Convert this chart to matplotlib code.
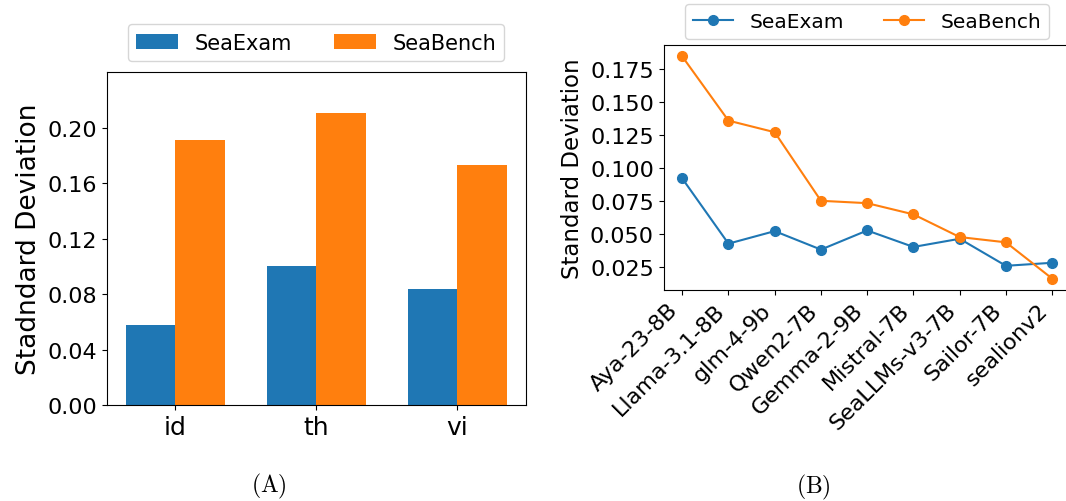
import numpy as np
import matplotlib
matplotlib.use("Agg")
import matplotlib.pyplot as plt

plt.rcParams["mathtext.fontset"] = "cm"

# Per-language spread of scores
languages = ["id", "th", "vi"]
seaexam_lang = [0.058, 0.100, 0.084]
seabench_lang = [0.191, 0.211, 0.173]

# Per-model spread of scores
models = ["Aya-23-8B", "Llama-3.1-8B", "glm-4-9b", "Qwen2-7B", "Gemma-2-9B",
          "Mistral-7B", "SeaLLMs-v3-7B", "Sailor-7B", "sealionv2"]
seaexam_model = [0.092, 0.0425, 0.052, 0.038, 0.0525, 0.040, 0.0462, 0.0257, 0.028]
seabench_model = [0.1845, 0.1358, 0.127, 0.075, 0.0732, 0.0647, 0.0475, 0.0435, 0.016]

blue = "#1f77b4"
orange = "#ff7f0e"

fig = plt.figure(figsize=(10.66, 5.02), dpi=100)

# (A) grouped bars
ax1 = fig.add_axes([0.1001, 0.1912, 0.3931, 0.6627])
x = np.arange(len(languages))
w = 0.35
ax1.bar(x - w / 2, seaexam_lang, w, color=blue, label="SeaExam")
ax1.bar(x + w / 2, seabench_lang, w, color=orange, label="SeaBench")
ax1.set_xticks(x)
ax1.set_xticklabels(languages, fontsize=18)
ax1.set_ylim(0, 0.24)
ax1.set_yticks([0.00, 0.04, 0.08, 0.12, 0.16, 0.20])
ax1.set_yticklabels([f"{v:.2f}" for v in [0.00, 0.04, 0.08, 0.12, 0.16, 0.20]], fontsize=16)
ax1.set_ylabel("Stadndard Deviation", fontsize=19)
ax1.legend(loc="lower center", bbox_to_anchor=(0.5, 1.0), ncol=2, fontsize=15,
           borderaxespad=0.55)

# (B) lines per model
ax2 = fig.add_axes([0.6226, 0.4209, 0.3818, 0.4869])
xm = np.arange(len(models))
ax2.plot(xm, seaexam_model, "-o", color=blue, markersize=7, label="SeaExam")
ax2.plot(xm, seabench_model, "-o", color=orange, markersize=7, label="SeaBench")
ax2.set_xticks(xm)
ax2.set_xticklabels(models, rotation=45, ha="right", fontsize=16)
ax2.set_yticks([0.025, 0.050, 0.075, 0.100, 0.125, 0.150, 0.175])
ax2.set_yticklabels([f"{v:.3f}" for v in [0.025, 0.050, 0.075, 0.100, 0.125, 0.150, 0.175]],
                    fontsize=16)
ax2.set_ylabel("Standard Deviation", fontsize=16.5)
ax2.legend(loc="lower center", bbox_to_anchor=(0.5, 1.0), ncol=2, fontsize=14.5,
           borderaxespad=0.3)

fig.text(268.5 / 1066, 1 - 486 / 502, r"$(\mathrm{A})$", ha="center", va="center", fontsize=17)
fig.text(813 / 1066, 1 - 487 / 502, r"$(\mathrm{B})$", ha="center", va="center", fontsize=17)

fig.savefig("out.png", dpi=100)
